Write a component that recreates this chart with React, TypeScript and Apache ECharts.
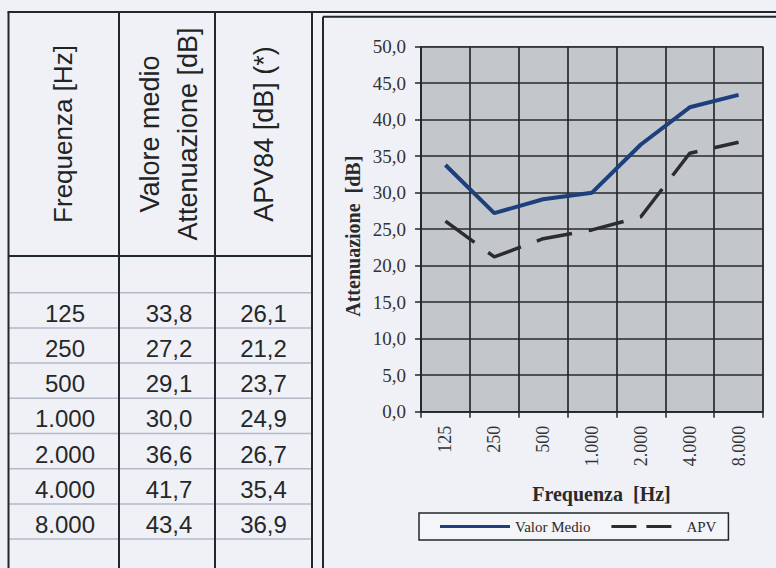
import React, { useEffect, useRef } from "react";
import * as echarts from "echarts";

// ---- data ----
const categories = ["125", "250", "500", "1.000", "2.000", "4.000", "8.000"];
const valorMedio = [33.8, 27.2, 29.1, 30.0, 36.6, 41.7, 43.4];
const apv84 = [26.1, 21.2, 23.7, 24.9, 26.7, 35.4, 36.9];
const headers = ["Frequenza [Hz]", "Valore medio\nAttenuazione [dB]", "APV84 [dB] (*)"];
const seriesNames = ["Valor Medio", "APV"];
const xTitle = "Frequenza  [Hz]";
const yTitle = "Attenuazione  [dB]";

// ---- layout / style ----
const W = 776;
const H = 568;
const PAGE_BG = "#eff1f7";
const INK = "#1f2927";
const colX = [8.5, 119, 215, 312];
const colCenters = [65, 169, 263.5];
const headerSizes = [26, 27, 27];
const topY = 12;
const headerBottom = 256;
const firstRowLine = 292.7;
const rowH = 35.2;
const chartBoxX = 323;
const chartBoxY = 16.7;

const fmt = (v: number) => v.toFixed(1).replace(".", ",");

const ICON_SOLID = "path://M0 0H70V3.2H0Z";
const ICON_DASH = "path://M0 0H25V3.2H0Z M35 0H60V3.2H35Z M70 0H70V3.2H70Z";

function buildGraphics() {
  const g: any[] = [];
  const line = (x1: number, y1: number, x2: number, y2: number, stroke = INK, lw = 2) =>
    g.push({ type: "line", shape: { x1, y1, x2, y2 }, style: { stroke, lineWidth: lw }, silent: true, z: 1 });

  // page frame top + chart box
  line(colX[0] - 1, topY, W, topY);
  line(chartBoxX, chartBoxY, W, chartBoxY);
  line(chartBoxX, chartBoxY, chartBoxX, H);

  // thin row lines
  for (let i = 0; i <= categories.length; i++) {
    const y = firstRowLine + i * rowH;
    line(colX[0], y, colX[3], y, "#b3b9c7", 1.5);
  }
  // header bottom
  line(colX[0], headerBottom, colX[3], headerBottom);
  // vertical table lines
  colX.forEach((x) => line(x, topY, x, H));

  // header texts
  headers.forEach((h, i) => {
    g.push({
      type: "text",
      x: colCenters[i] - (i === 0 ? 2 : 0),
      y: 134,
      rotation: Math.PI / 2,
      silent: true,
      z: 2,
      style: {
        text: h,
        fontFamily: "Liberation Sans, Arial, sans-serif",
        fontSize: headerSizes[i],
        lineHeight: 38,
        fill: "#222424",
        align: "center",
        verticalAlign: "middle",
      },
    });
  });

  // data rows
  categories.forEach((c, r) => {
    const cy = firstRowLine + r * rowH + rowH / 2 + 3;
    [c, fmt(valorMedio[r]), fmt(apv84[r])].forEach((t, i) => {
      g.push({
        type: "text",
        x: colCenters[i],
        y: cy,
        silent: true,
        z: 2,
        style: {
          text: t,
          fontFamily: "Liberation Sans, Arial, sans-serif",
          fontSize: 24,
          fill: "#262828",
          align: "center",
          verticalAlign: "middle",
        },
      });
    });
  });
  return g;
}

export default function App() {
  const ref = useRef<HTMLDivElement>(null);
  useEffect(() => {
    if (!ref.current) return;
    const chart = echarts.init(ref.current, undefined, { renderer: "svg" });
    const serif = "Liberation Serif, Times New Roman, serif";
    chart.setOption({
      animation: false,
      backgroundColor: PAGE_BG,
      graphic: buildGraphics(),
      grid: {
        left: 421,
        right: W - 763,
        top: 46.7,
        bottom: H - 411.7,
        show: true,
        backgroundColor: "#c3c7cb",
        borderColor: "#3a3e3e",
        borderWidth: 1,
      },
      legend: {
        left: 419,
        top: 513,
        orient: "horizontal",
        itemWidth: 70,
        itemHeight: 14,
        itemGap: 21,
        padding: [6, 12, 6, 21],
        borderColor: INK,
        borderWidth: 1.5,
        backgroundColor: "#f3f5f9",
        textStyle: { fontFamily: serif, fontSize: 15, color: "#2a2a2a" },
        data: [
          { name: seriesNames[0], icon: ICON_SOLID },
          { name: seriesNames[1], icon: ICON_DASH },
        ],
      },
      xAxis: {
        type: "category",
        data: categories,
        boundaryGap: true,
        name: xTitle,
        nameLocation: "middle",
        nameGap: 72,
        nameTextStyle: {
          fontFamily: serif,
          fontSize: 20,
          fontWeight: "bold",
          color: "#2a2a2a",
          padding: [0, 0, 0, 19],
        },
        axisLine: { show: true, lineStyle: { color: INK, width: 1.5 } },
        axisTick: { show: true, interval: 0, length: 6, lineStyle: { color: INK, width: 1.5 } },
        splitLine: { show: true, interval: 0, lineStyle: { color: "#262a2a", width: 1.7 } },
        axisLabel: {
          interval: 0,
          rotate: 90,
          margin: 14,
          fontFamily: serif,
          fontSize: 18,
          color: "#333",
        },
      },
      yAxis: {
        type: "value",
        min: 0,
        max: 50,
        interval: 5,
        name: yTitle,
        nameLocation: "middle",
        nameRotate: 90,
        nameGap: 58,
        nameTextStyle: {
          fontFamily: serif,
          fontSize: 20,
          fontWeight: "bold",
          color: "#2a2a2a",
          padding: [0, 14, 0, 0],
        },
        axisLine: { show: true, lineStyle: { color: INK, width: 1.5 } },
        axisTick: { show: true, length: 6, lineStyle: { color: INK, width: 1.5 } },
        splitLine: { show: true, lineStyle: { color: "#262a2a", width: 1.7 } },
        axisLabel: {
          margin: 15,
          fontFamily: serif,
          fontSize: 19,
          color: "#333",
          formatter: (v: number) => fmt(v),
        },
      },
      series: [
        {
          name: seriesNames[0],
          type: "line",
          data: valorMedio,
          symbol: "none",
          lineStyle: { color: "#1d3f7d", width: 4 },
          itemStyle: { color: "#1d3f7d" },
          z: 5,
        },
        {
          name: seriesNames[1],
          type: "line",
          data: apv84,
          symbol: "none",
          lineStyle: { color: "#2b2d2d", width: 3.5, type: [36, 17] },
          itemStyle: { color: "#2b2d2d" },
          z: 4,
        },
      ],
    });
    return () => chart.dispose();
  }, []);
  return (
    <div
      ref={ref}
      style={{ position: "fixed", left: 0, top: 0, width: W, height: H }}
    />
  );
}
